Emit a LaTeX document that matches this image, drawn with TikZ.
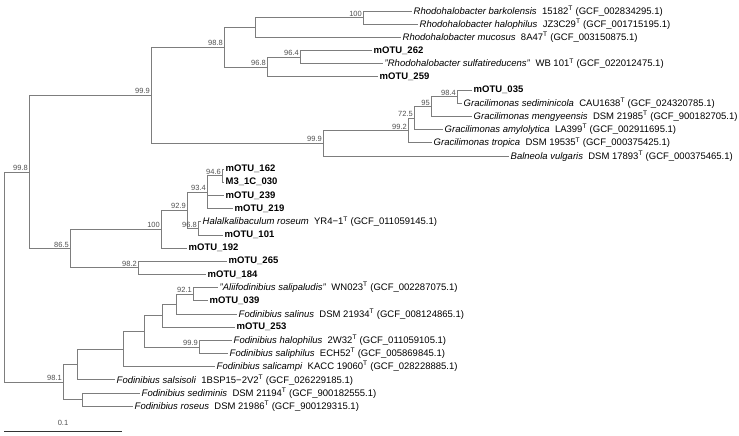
\documentclass[tikz,border=0pt]{standalone}
\usepackage{fontspec}
\setmainfont{Liberation Sans}
\usepackage{tikz}
\usetikzlibrary{positioning}
\definecolor{branchgray}{RGB}{125,125,125}
\definecolor{bootgray}{RGB}{80,80,80}
\newcommand{\tstrain}{\textsuperscript{T}}

\begin{document}
\begin{tikzpicture}[x=1pt, y=-1pt,
    branch/.style={draw=branchgray, line width=0.8pt},
    taxon/.style={anchor=west, inner sep=1.5pt, font=\fontsize{9.5}{11}\selectfont},
    otu/.style={taxon, font=\fontsize{9.5}{11}\selectfont\bfseries},
    boot/.style={anchor=south east, inner sep=1pt, font=\fontsize{7.5}{8}\selectfont, text=bootgray}]

    \useasboundingbox (0,0) rectangle (739,436);

    % Internal nodes
    \coordinate (nRoot) at (4,277);
    \coordinate (n998) at (29,171.9);
    \coordinate (n999a) at (151,95.2);
    \coordinate (n988) at (224,47.2);
    \coordinate (nRho) at (255,27.5);
    \coordinate (n100a) at (363,17.6);
    \coordinate (n968a) at (267,67);
    \coordinate (n964) at (300,57.1);
    \coordinate (n999b) at (323,143.1);
    \coordinate (n992) at (408,130.4);
    \coordinate (n725) at (414,118);
    \coordinate (n95) at (431,106.5);
    \coordinate (n984) at (457,96.6);
    \coordinate (n865) at (70,248.5);
    \coordinate (n100b) at (161,229.2);
    \coordinate (n929) at (187,210.2);
    \coordinate (n934) at (207,192.1);
    \coordinate (n946) at (222,175.6);
    \coordinate (n968b) at (198,228.3);
    \coordinate (n982) at (138,267.8);
    \coordinate (n981) at (63,382);
    \coordinate (nF5) at (77,364.4);
    \coordinate (nF4) at (123,349);
    \coordinate (nF3) at (144,331.3);
    \coordinate (nF2) at (162,315.6);
    \coordinate (nF1) at (176,304);
    \coordinate (n921) at (193,294.2);
    \coordinate (n999c) at (199,346.9);
    \coordinate (nF6) at (82,399.5);

    % Rhodohalobacter
    \node[taxon] (rbar) at (412,11) {\textit{Rhodohalobacter barkolensis}\ \ 15182\tstrain{} (GCF\_002834295.1)};
    \node[taxon] (rhal) at (418,24.2) {\textit{Rhodohalobacter halophilus}\ \ JZ3C29\tstrain{} (GCF\_001715195.1)};
    \node[taxon] (rmuc) at (401,37.3) {\textit{Rhodohalobacter mucosus}\ \ 8A47\tstrain{} (GCF\_003150875.1)};
    \node[otu] (m262) at (372,50.5) {mOTU\_262};
    \node[taxon] (rsul) at (383,63.7) {\textit{"Rhodohalobacter sulfatireducens"}\ \ WB 101\tstrain{} (GCF\_022012475.1)};
    \node[otu] (m259) at (378,76.9) {mOTU\_259};

    % Gracilimonas and Balneola
    \node[otu] (m035) at (472,90) {mOTU\_035};
    \node[taxon] (gsed) at (462,103.2) {\textit{Gracilimonas sediminicola}\ \ CAU1638\tstrain{} (GCF\_024320785.1)};
    \node[taxon] (gmen) at (472,116.4) {\textit{Gracilimonas mengyeensis}\ \ DSM 21985\tstrain{} (GCF\_900182705.1)};
    \node[taxon] (gamy) at (443,129.5) {\textit{Gracilimonas amylolytica}\ \ LA399\tstrain{} (GCF\_002911695.1)};
    \node[taxon] (gtro) at (432,142.7) {\textit{Gracilimonas tropica}\ \ DSM 19535\tstrain{} (GCF\_000375425.1)};
    \node[taxon] (bvul) at (509,155.9) {\textit{Balneola vulgaris}\ \ DSM 17893\tstrain{} (GCF\_000375465.1)};

    % Halalkalibaculum
    \node[otu] (m162) at (224,169) {mOTU\_162};
    \node[otu] (m3c) at (224,182.2) {M3\_1C\_030};
    \node[otu] (m239) at (224,195.4) {mOTU\_239};
    \node[otu] (m219) at (233,208.6) {mOTU\_219};
    \node[taxon] (hros) at (201,221.7) {\textit{Halalkalibaculum roseum}\ \ YR4−1\tstrain{} (GCF\_011059145.1)};
    \node[otu] (m101) at (223,234.9) {mOTU\_101};
    \node[otu] (m192) at (187,248.1) {mOTU\_192};
    \node[otu] (m265) at (227,261.2) {mOTU\_265};
    \node[otu] (m184) at (206,274.4) {mOTU\_184};

    % Fodinibius
    \node[taxon] (asal) at (218,287.6) {\textit{"Aliifodinibius salipaludis"}\ \ WN023\tstrain{} (GCF\_002287075.1)};
    \node[otu] (m039) at (208,300.8) {mOTU\_039};
    \node[taxon] (fsaln) at (237,313.9) {\textit{Fodinibius salinus}\ \ DSM 21934\tstrain{} (GCF\_008124865.1)};
    \node[otu] (m253) at (235,327.1) {mOTU\_253};
    \node[taxon] (fhal) at (232,340.3) {\textit{Fodinibius halophilus}\ \ 2W32\tstrain{} (GCF\_011059105.1)};
    \node[taxon] (fsph) at (228,353.4) {\textit{Fodinibius saliphilus}\ \ ECH52\tstrain{} (GCF\_005869845.1)};
    \node[taxon] (fsalc) at (215,366.6) {\textit{Fodinibius salicampi}\ \ KACC 19060\tstrain{} (GCF\_028228885.1)};
    \node[taxon] (fsals) at (115,379.8) {\textit{Fodinibius salsisoli}\ \ 1BSP15−2V2\tstrain{} (GCF\_026229185.1)};
    \node[taxon] (fsed) at (140,392.9) {\textit{Fodinibius sediminis}\ \ DSM 21194\tstrain{} (GCF\_900182555.1)};
    \node[taxon] (fros) at (133,406.1) {\textit{Fodinibius roseus}\ \ DSM 21986\tstrain{} (GCF\_900129315.1)};

    % Branches
    \draw[branch] (nRoot) |- (n998) (nRoot) |- (n981);
    \draw[branch] (n998) |- (n999a) (n998) |- (n865);
    \draw[branch] (n999a) |- (n988) (n999a) |- (n999b);
    \draw[branch] (n988) |- (nRho) (n988) |- (n968a);
    \draw[branch] (nRho) |- (n100a) (nRho) |- (rmuc);
    \draw[branch] (n100a) |- (rbar) (n100a) |- (rhal);
    \draw[branch] (n968a) |- (n964) (n968a) |- (m259);
    \draw[branch] (n964) |- (m262) (n964) |- (rsul);
    \draw[branch] (n999b) |- (n992) (n999b) |- (bvul);
    \draw[branch] (n992) |- (n725) (n992) |- (gtro);
    \draw[branch] (n725) |- (n95) (n725) |- (gamy);
    \draw[branch] (n95) |- (n984) (n95) |- (gmen);
    \draw[branch] (n984) |- (m035) (n984) |- (gsed);
    \draw[branch] (n865) |- (n100b) (n865) |- (n982);
    \draw[branch] (n100b) |- (n929) (n100b) |- (m192);
    \draw[branch] (n929) |- (n934) (n929) |- (n968b);
    \draw[branch] (n934) |- (n946) (n934) |- (m239) (n934) |- (m219);
    \draw[branch] (n946) |- (m162) (n946) |- (m3c);
    \draw[branch] (n968b) |- (hros) (n968b) |- (m101);
    \draw[branch] (n982) |- (m265) (n982) |- (m184);
    \draw[branch] (n981) |- (nF5) (n981) |- (nF6);
    \draw[branch] (nF5) |- (nF4) (nF5) |- (fsals);
    \draw[branch] (nF4) |- (nF3) (nF4) |- (fsalc);
    \draw[branch] (nF3) |- (nF2) (nF3) |- (n999c);
    \draw[branch] (nF2) |- (nF1) (nF2) |- (m253);
    \draw[branch] (nF1) |- (n921) (nF1) |- (fsaln);
    \draw[branch] (n921) |- (asal) (n921) |- (m039);
    \draw[branch] (n999c) |- (fhal) (n999c) |- (fsph);
    \draw[branch] (nF6) |- (fsed) (nF6) |- (fros);

    % Bootstrap values
    \node[boot] (b998) at (n998) {99.8};
    \node[boot] (b999a) at (n999a) {99.9};
    \node[boot] (b988) at (n988) {98.8};
    \node[boot] (b100a) at (n100a) {100};
    \node[boot] (b968a) at (n968a) {96.8};
    \node[boot] (b964) at (n964) {96.4};
    \node[boot] (b999b) at (n999b) {99.9};
    \node[boot] (b992) at (n992) {99.2};
    \node[boot] (b725) at (n725) {72.5};
    \node[boot] (b95) at (n95) {95};
    \node[boot] (b984) at (n984) {98.4};
    \node[boot] (b865) at (n865) {86.5};
    \node[boot] (b100b) at (n100b) {100};
    \node[boot] (b929) at (n929) {92.9};
    \node[boot] (b934) at (n934) {93.4};
    \node[boot] (b946) at (n946) {94.6};
    \node[boot] (b968b) at (n968b) {96.8};
    \node[boot] (b982) at (n982) {98.2};
    \node[boot] (b981) at (n981) {98.1};
    \node[boot] (b921) at (n921) {92.1};
    \node[boot] (b999c) at (n999c) {99.9};

    % Scale bar
    \coordinate (sbL) at (4,431);
    \coordinate (sbR) at (122,431);
    \coordinate (sbM) at (63,431);
    \draw[draw=black!80, line width=0.8pt] (sbL) -- (sbR);
    \node[boot, anchor=south, above=4pt of sbM] (sbText) {0.1};
\end{tikzpicture}
\end{document}
